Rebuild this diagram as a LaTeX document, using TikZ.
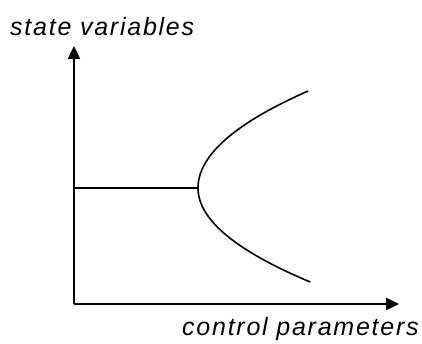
\documentclass[tikz,border=0pt]{standalone}
\usepackage{fontspec}
\setmainfont{Liberation Sans}
\newfontfamily\labelfont{Liberation Sans}[LetterSpace=7]
\usetikzlibrary{arrows.meta}

\begin{document}
\begin{tikzpicture}[
      x=1pt, y=-1pt,
      axisline/.style={-{Triangle[length=13pt,width=12pt]}, line width=2.4pt},
      branchline/.style={line width=1.6pt},
      axislabel/.style={font=\labelfont\fontsize{25pt}{30pt}\selectfont\itshape, inner sep=0pt}
    ]
      \useasboundingbox (0,0) rectangle (422,344);

      \coordinate (origin) at (74,304);
      \coordinate (ytip) at (74,46);
      \coordinate (xtip) at (399,304);
      \coordinate (fork) at (198,188);
      \coordinate (stem) at (74,188);

      \draw[axisline] (origin) -- (ytip);
      \draw[axisline] (origin) -- (xtip);

      % stable branch before the fork, then the parabola
      \draw[branchline] (stem) -- (fork);
      \draw[branchline] plot[domain=-94:97, samples=80]
        ({198+(0.0122-0.0005*sign(\x))*\x*\x},{188-\x});

      \node[axislabel, anchor=base west] (ylab) at (10,36) {state variables};
      \node[axislabel, anchor=base west] (xlab) at (182,335) {control parameters};
    \end{tikzpicture}
\end{document}
